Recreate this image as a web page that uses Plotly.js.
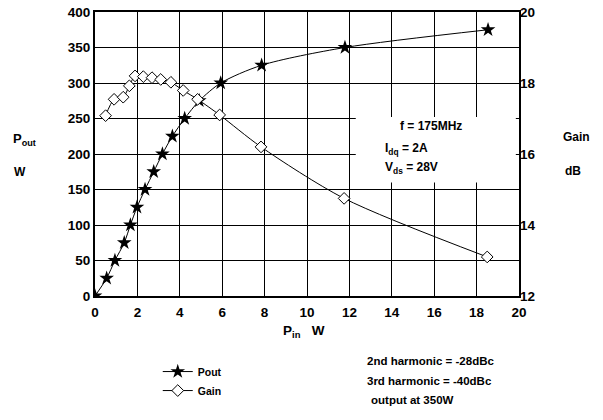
<!DOCTYPE html>
<html>
<head>
<meta charset="utf-8">
<script src="https://cdn.plot.ly/plotly-3.0.1.min.js"></script>
<style>html,body{margin:0;padding:0;background:#fff;}#chart{width:603px;height:420px;}</style>
</head>
<body>
<div id="chart"></div>
<script>
// Pout vs Pin
const poutPin = [0, 0.55, 0.94, 1.38, 1.67, 1.98, 2.36, 2.77, 3.18, 3.65, 4.23, 4.92, 5.93, 7.86, 11.79, 18.54];
const poutVal = [0, 25, 50, 75, 100, 125, 150, 175, 200, 225, 250, 275, 300, 325, 350, 375];
// Gain vs Pin
const gainPin = [0.5, 0.9, 1.33, 1.62, 1.89, 2.28, 2.69, 3.1, 3.58, 4.16, 4.84, 5.88, 7.83, 11.75, 18.5];
const gainVal = [17.08, 17.54, 17.6, 17.92, 18.2, 18.18, 18.15, 18.1, 18.02, 17.79, 17.54, 17.1, 16.2, 14.75, 13.1];
const xTicks = [0, 2, 4, 6, 8, 10, 12, 14, 16, 18, 20];
const yTicks = [0, 50, 100, 150, 200, 250, 300, 350, 400];
const y2Ticks = [12, 14, 16, 18, 20];

const FONT = 'Liberation Sans, Arial, sans-serif';
const bold = (s, c) => ({family: FONT, size: s, color: c || '#000', weight: 'bold'});

const traces = [
  {x: poutPin, y: poutVal, name: 'Pout', mode: 'lines+markers', yaxis: 'y',
   line: {color: '#000', width: 1, shape: 'spline', smoothing: 0.8},
   marker: {symbol: 'star', size: 11, color: '#000', line: {width: 0}}},
  {x: gainPin, y: gainVal, name: 'Gain', mode: 'lines+markers', yaxis: 'y2',
   line: {color: '#000', width: 1, shape: 'spline', smoothing: 0.8},
   marker: {symbol: 'diamond', size: 9, color: '#fff', line: {color: '#000', width: 1}}}
];

const layout = {
  width: 603, height: 420,
  margin: {l: 95, r: 84, t: 12, b: 124},
  paper_bgcolor: '#fff', plot_bgcolor: '#fff',
  showlegend: true,
  legend: {x: 0.148, y: -0.215, xanchor: 'left', yanchor: 'top', font: bold(10.5), bgcolor: 'rgba(0,0,0,0)', tracegroupgap: 0, itemwidth: 30},
  xaxis: {range: [0, 20], tickvals: xTicks, ticktext: xTicks.map(String), showgrid: true, gridcolor: '#000', gridwidth: 1,
          showline: true, linecolor: '#000', linewidth: 2, mirror: true, zeroline: false, ticks: 'outside', ticklen: 3, tickcolor: 'rgba(0,0,0,0)', tickfont: bold(13.5), fixedrange: true},
  yaxis: {range: [0, 400], tickvals: yTicks, ticktext: yTicks.map(String), showgrid: true, gridcolor: '#000', gridwidth: 1,
          showline: true, linecolor: '#000', linewidth: 2, mirror: true, zeroline: false, ticks: '', tickfont: bold(13.5), fixedrange: true},
  yaxis2: {range: [12, 20], tickvals: y2Ticks, ticktext: y2Ticks.map(String), overlaying: 'y', side: 'right', showgrid: false,
           zeroline: false, showline: false, ticks: '', tickfont: bold(13.5), fixedrange: true},
  shapes: [
    {type: 'rect', xref: 'x', yref: 'y', x0: 12.3, x1: 19.85, y0: 160, y1: 252, fillcolor: '#fff', line: {width: 0}, layer: 'between'}
  ],
  annotations: [
    {text: 'f = 175MHz', xref: 'paper', yref: 'paper', x: (431 - 95) / 424, y: (296 - 126) / 284, showarrow: false, font: bold(12), xanchor: 'center'},
    {text: 'I<sub>dq</sub> = 2A', xref: 'paper', yref: 'paper', x: (383 - 95) / 424, y: (296 - 149) / 284, showarrow: false, font: bold(12), xanchor: 'left'},
    {text: 'V<sub>ds</sub> = 28V', xref: 'paper', yref: 'paper', x: (383 - 95) / 424, y: (296 - 168) / 284, showarrow: false, font: bold(12), xanchor: 'left'},
    {text: 'P<sub>out</sub>', xref: 'paper', yref: 'paper', x: (11 - 95) / 424, y: (296 - 139) / 284, showarrow: false, font: bold(13), xanchor: 'left'},
    {text: 'W', xref: 'paper', yref: 'paper', x: (12 - 95) / 424, y: (296 - 172) / 284, showarrow: false, font: bold(12), xanchor: 'left'},
    {text: 'Gain', xref: 'paper', yref: 'paper', x: (561 - 95) / 424, y: (296 - 137) / 284, showarrow: false, font: bold(12), xanchor: 'left'},
    {text: 'dB', xref: 'paper', yref: 'paper', x: (563 - 95) / 424, y: (296 - 171) / 284, showarrow: false, font: bold(12), xanchor: 'left'},
    {text: 'P<sub>in</sub>   W', xref: 'paper', yref: 'paper', x: (281 - 95) / 424, y: (296 - 342) / 284, showarrow: false, font: bold(13.5), xanchor: 'left'},
    {text: '2nd harmonic = -28dBc', xref: 'paper', yref: 'paper', x: (365 - 95) / 424, y: (296 - 369) / 284, showarrow: false, font: bold(11.5), xanchor: 'left'},
    {text: '3rd harmonic = -40dBc', xref: 'paper', yref: 'paper', x: (365 - 95) / 424, y: (296 - 389) / 284, showarrow: false, font: bold(11.5), xanchor: 'left'},
    {text: 'output at 350W', xref: 'paper', yref: 'paper', x: (369 - 95) / 424, y: (296 - 408) / 284, showarrow: false, font: bold(11.5), xanchor: 'left'}
  ]
};

Plotly.newPlot('chart', traces, layout, {displayModeBar: false, staticPlot: true});
</script>
</body>
</html>
